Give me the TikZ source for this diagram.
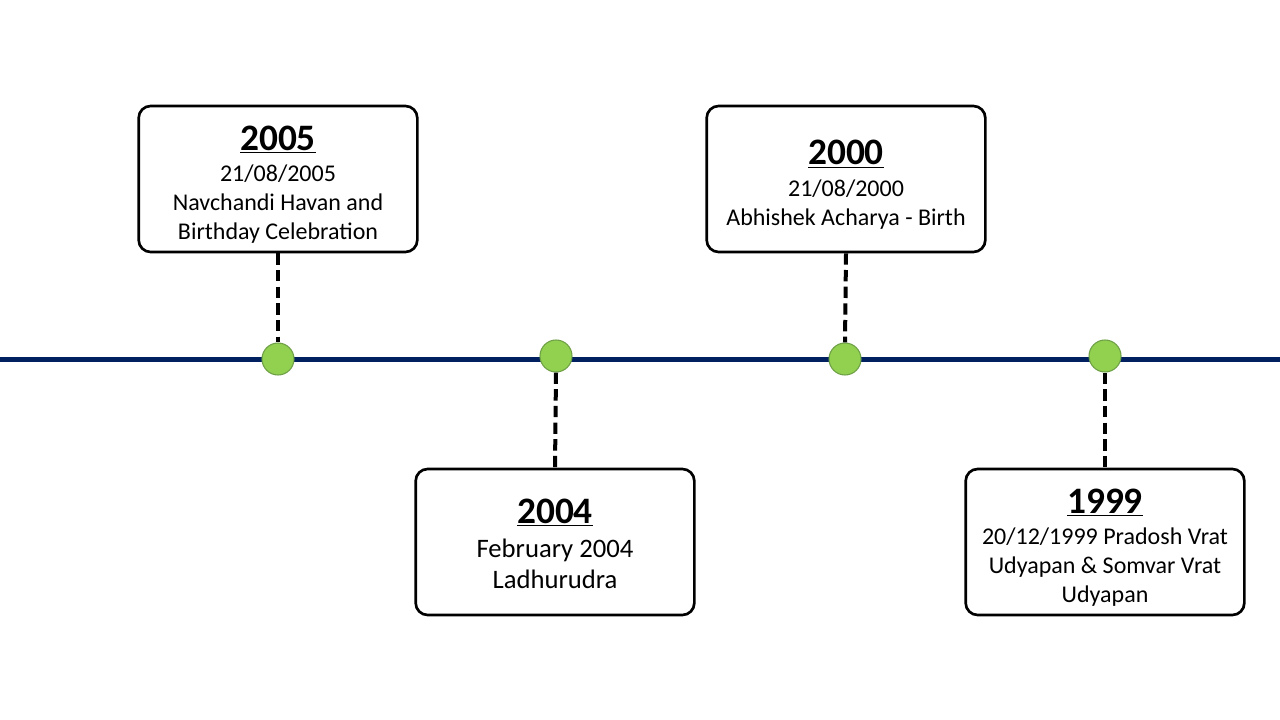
\documentclass[tikz,border=0pt]{standalone}
\usepackage{fontspec}
\setmainfont{Carlito}
\usepackage{tikz}
\usetikzlibrary{positioning,shapes,calc}
\definecolor{navy}{RGB}{0,32,96}
\definecolor{leaf}{RGB}{146,208,80}
\definecolor{leafdark}{RGB}{110,160,70}
\newcommand{\yr}[2][27pt]{{\fontsize{28}{30}\selectfont\bfseries\rule{0pt}{#1}\underline{#2}}\\[2pt]}

\begin{document}
\begin{tikzpicture}[x=0.75pt, y=-0.75pt, event box/.style={draw, rounded corners=9pt, line width=2pt, minimum width=209pt, minimum height=109.5pt, align=center, font=\fontsize{18}{21.75}\selectfont, inner sep=2pt}, dot/.style={circle, fill=leaf, draw=leafdark, line width=0.8pt, minimum size=24pt, inner sep=0pt}]
\useasboundingbox (0,0) rectangle (1280,720);
\draw[navy, line width=3.75pt] (0,359) -- (1280,359);
\begin{scope}[every node/.style={event box}]
\node (b2005) at (278,179) {\yr{2005}21/08/2005\\Navchandi Havan and\\Birthday Celebration};
\node[font=\fontsize{20}{23.25}\selectfont] (b2004) at (555,542) {\yr[21pt]{2004}February 2004\\Ladhurudra};
\node (b2000) at (846,179) {\yr{2000}21/08/2000\\Abhishek Acharya - Birth};
\node (b1999) at (1105,542) {\yr{1999}20/12/1999 Pradosh Vrat\\Udyapan \& Somvar Vrat\\Udyapan};
\end{scope}
\begin{scope}[every node/.style={dot}]
\node (d2005) at (278,359) {};
\node (d2004) at (556,356) {};
\node (d2000) at (845,359) {};
\node (d1999) at (1105,356) {};
\end{scope}
\begin{scope}[every edge/.style={draw=black, line width=3pt, dash pattern=on 8.5pt off 4pt}]
\draw (b2005.south) edge node{} (d2005.north);
\draw (d2004.south) edge node{} (b2004.north);
\draw (b2000.south) edge node{} (d2000.north);
\draw (d1999.south) edge node{} (b1999.north);
\end{scope}
\end{tikzpicture}
\end{document}
